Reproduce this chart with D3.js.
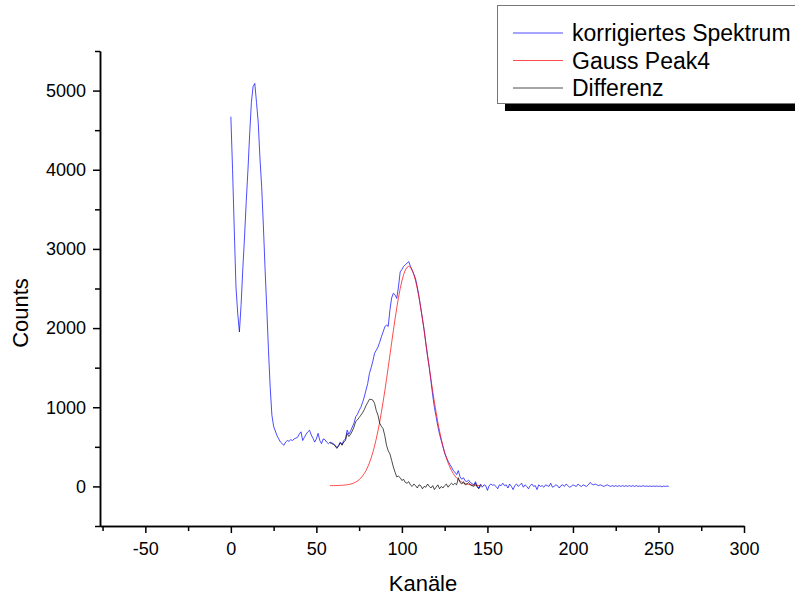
<!DOCTYPE html>
<html>
<head>
<meta charset="utf-8">
<script src="https://cdn.jsdelivr.net/npm/d3@7"></script>
<style>
  body { margin: 0; background: #fff; }
  svg { display: block; font-family: "Liberation Sans", Arial, sans-serif; }
</style>
</head>
<body>
<div id="chart"></div>
<script>
// korrigiertes Spektrum, one value per channel starting at channel 0
var blueStart = 0
var blueCounts = [
  4670, 4000, 3240, 2520, 2190, 1950, 2300, 2750, 3150, 3600,
  4000, 4450, 4850, 5050, 5090, 4850, 4600, 4150, 3790, 3300,
  2750, 2250, 1720, 1250, 900, 760, 700, 640, 600, 560,
  540, 520, 560, 580, 570, 590, 580, 600, 610, 620,
  660, 690, 580, 620, 660, 690, 710, 650, 610, 560,
  600, 670, 580, 540, 600, 590, 560, 540, 560, 550,
  540, 520, 490, 520, 560, 530, 580, 600, 710, 660,
  700, 750, 800, 880, 910, 960, 1000, 1060, 1130, 1215,
  1300, 1425, 1500, 1580, 1680, 1720, 1760, 1820, 1890, 1950,
  2015, 2040, 2020, 2230, 2380, 2440, 2420, 2375, 2520, 2710,
  2740, 2780, 2800, 2820, 2840, 2780, 2730, 2680, 2620, 2520,
  2400, 2260, 2120, 1980, 1800, 1640, 1500, 1330, 1150, 1000,
  880, 760, 660, 580, 500, 420, 370, 320, 280, 245,
  200, 180, 150, 200, 120, 90, 110, 70, 60, 80,
  50, 35, 20, 60, 10, -20, 30, -10, 20, 10,
  -50, 10, 30, 15, 20, 0, -30, 20, 10, 40,
  10, 20, -20, 30, 0, -40, 10, 30, 0, 20,
  40, -10, 20, 0, -30, 10, 30, 0, 10, -40,
  20, 0, 10, -10, 20, 10, 0, 40, -10, 0,
  20, 10, -20, 10, 20, 0, 30, 10, -10, 0,
  20, 10, 0, 30, 10, 0, 20, 10, 0, 20,
  50, 30, 20, 30, 20, 10, 20, 10, 0, 10,
  20, 10, 0, 10, 0, 10, 0, 10, 0, 10,
  0, 10, 0, 10, 0, 10, 0, 10, 0, 5,
  0, 10, 0, 5, 0, 5, 0, 5, 0, 5,
  0, 5, -5, 5, 0, 5, 0
]

// Gauss Peak4 fit, channels 58..146
var fitStart = 58
var redCounts = [
  10, 10, 10, 11, 11, 12, 13, 14, 16, 18,
  21, 25, 30, 36, 44, 55, 68, 85, 106, 132,
  163, 200, 245, 297, 358, 428, 509, 600, 701, 813,
  935, 1066, 1206, 1352, 1504, 1659, 1814, 1968, 2115, 2255,
  2384, 2498, 2596, 2675, 2733, 2768, 2780, 2768, 2733, 2675,
  2596, 2498, 2384, 2255, 2115, 1968, 1814, 1659, 1504, 1352,
  1206, 1066, 935, 813, 701, 600, 509, 428, 358, 297,
  245, 200, 163, 132, 106, 85, 68, 55, 44, 36,
  30, 25, 21, 18, 16, 14, 13, 12, 11
]

// Differenz, channels 58..146
var blackCounts = [
  550, 540, 530, 510, 480, 510, 550, 520, 560, 580,
  670, 630, 660, 700, 750, 820, 840, 870, 900, 930,
  970, 1020, 1060, 1100, 1100, 1090, 1050, 960, 900, 800,
  760, 730, 640, 520, 450, 410, 330, 245, 180, 120,
  130, 110, 75, 90, 50, 40, 60, 20, 0, 30,
  10, -20, 20, 10, -30, 0, -10, 30, 0, -20,
  10, -40, -10, 20, -30, 0, -20, 10, 30, -10,
  20, 40, 20, 40, 20, 110, 50, 30, 60, 20,
  30, 50, 20, 10, 0, 40, -10, -30, 10
]

var seriesNames = ['korrigiertes Spektrum', 'Gauss Peak4', 'Differenz']
var seriesColors = ['#0000ff', '#ff0000', '#000000']

var xMajor = [-50, 0, 50, 100, 150, 200, 250, 300]
var xMinor = [-75, -25, 25, 75, 125, 175, 225, 275]
var yMajor = [0, 1000, 2000, 3000, 4000, 5000]
var yMinor = [-500, 500, 1500, 2500, 3500, 4500, 5500]

var width = 795
var height = 596

var svg = d3.select("#chart")
  .append("svg")
  .attr("width", width)
  .attr("height", height)

var xScale = d3.scaleLinear()
  .domain([-76.5, 300])
  .range([100, 744])

var yScale = d3.scaleLinear()
  .domain([-500, 5500])
  .range([526, 51])

// plain numbers with a hyphen minus, like the original
var plain = d => String(d)

var line = d3.line()
  .x(d => xScale(d[0]))
  .y(d => yScale(d[1]))

function toPoints(start, values) {
  return values.map((v, i) => [start + i, v])
}

var series = [
  toPoints(blueStart, blueCounts),
  toPoints(fitStart, redCounts),
  toPoints(fitStart, blackCounts)
]

// lines
svg.selectAll(".series")
  .data(series)
  .enter()
  .append("path")
  .attr("class", "series")
  .attr("d", d => line(d))
  .attr("fill", "none")
  .attr("stroke", (d, i) => seriesColors[i])
  .attr("stroke-width", 1)
  .attr("stroke-opacity", 0.7)

// X axis
svg.append("g")
  .attr("transform", `translate(0, ${yScale(-500)})`)
  .call(d3.axisBottom(xScale).tickValues(xMinor).tickSize(5).tickSizeOuter(0).tickFormat(""))

svg.append("g")
  .attr("class", "x-axis")
  .attr("transform", `translate(0, ${yScale(-500)})`)
  .call(d3.axisBottom(xScale).tickValues(xMajor).tickSize(7).tickSizeOuter(0).tickPadding(9).tickFormat(plain))
  .selectAll("text")
  .style("font-size", "18px")
  .style("fill", "#000")

// Y axis
svg.append("g")
  .attr("transform", `translate(${xScale(-76.5)}, 0)`)
  .call(d3.axisLeft(yScale).tickValues(yMinor).tickSize(5).tickSizeOuter(0).tickFormat(""))

svg.append("g")
  .attr("class", "y-axis")
  .attr("transform", `translate(${xScale(-76.5)}, 0)`)
  .call(d3.axisLeft(yScale).tickValues(yMajor).tickSize(7).tickSizeOuter(0).tickPadding(7).tickFormat(plain))
  .selectAll("text")
  .style("font-size", "18px")
  .style("fill", "#000")

svg.selectAll(".domain, .tick line")
  .attr("stroke", "#000")
  .attr("stroke-width", 1.5)

// axis titles
svg.append("text")
  .attr("x", 423)
  .attr("y", 591)
  .attr("text-anchor", "middle")
  .style("font-size", "22px")
  .text("Kanäle")

svg.append("text")
  .attr("transform", "translate(28, 313) rotate(-90)")
  .attr("text-anchor", "middle")
  .style("font-size", "22px")
  .text("Counts")

// legend
var legend = svg.append("g")
  .attr("transform", "translate(497, 5)")

legend.append("rect")
  .attr("x", 8)
  .attr("y", 98)
  .attr("width", 310)
  .attr("height", 8)
  .attr("fill", "#000")

legend.append("rect")
  .attr("x", 0.5)
  .attr("y", 0.5)
  .attr("width", 310)
  .attr("height", 98)
  .attr("fill", "#fff")
  .attr("stroke", "#777")

var rows = legend.selectAll(".legend-row")
  .data(seriesNames)
  .enter()
  .append("g")
  .attr("class", "legend-row")
  .attr("transform", (d, i) => `translate(0, ${28 + i * 27.5})`)

rows.append("line")
  .attr("x1", 16)
  .attr("x2", 66)
  .attr("stroke", (d, i) => seriesColors[i])
  .attr("stroke-width", 1)
  .attr("stroke-opacity", 0.7)

rows.append("text")
  .attr("x", 75)
  .attr("y", 8)
  .style("font-size", "23px")
  .text(d => d)
</script>
</body>
</html>
